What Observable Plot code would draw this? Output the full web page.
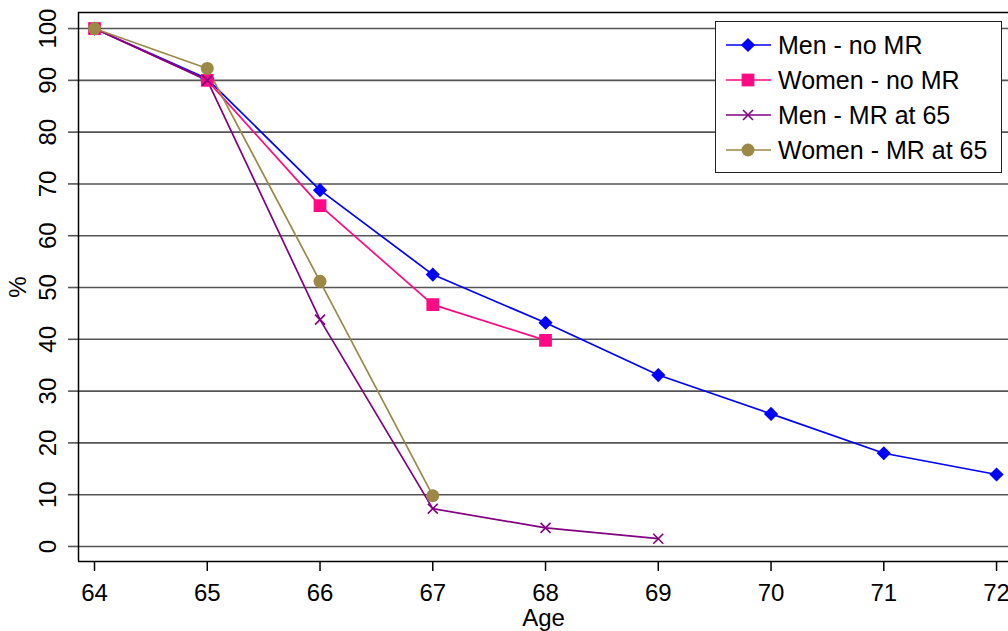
<!DOCTYPE html>
<html>
<head>
<meta charset="utf-8">
<script src="https://cdn.jsdelivr.net/npm/d3@7"></script>
<script src="https://cdn.jsdelivr.net/npm/@observablehq/plot@0.6"></script>
<style>
  body { margin: 0; background: white; overflow: hidden; }
  #wrap { position: relative; width: 1008px; height: 631px; font-family: "Liberation Sans", Arial, sans-serif; }
  #legend { position: absolute; left: 715px; top: 21px; width: 287px; height: 152px; box-sizing: border-box; border: 1.5px solid #222; background: white; }
</style>
</head>
<body>
<div id="wrap"><div id="chart"></div><div id="legend"></div></div>
<script>
const ages = [64, 65, 66, 67, 68, 69, 70, 71, 72];
const menNoMR   = [100, 90.3, 68.8, 52.5, 43.2, 33.1, 25.6, 18.0, 13.9];
const womenNoMR = [100, 90.0, 65.8, 46.7, 39.8];
const menMR65   = [100, 90.0, 43.8, 7.3, 3.6, 1.5];
const womenMR65 = [100, 92.3, 51.2, 9.8];
const seriesNames = ["Men - no MR", "Women - no MR", "Men - MR at 65", "Women - MR at 65"];
const seriesColors = ["#0000ff", "#ff0a84", "#800080", "#9c8847"];
const seriesSymbols = ["diamond2", "square", "times", "circle"];
const seriesR = [6.4, 7.2, 4.6, 6.5];
const yTicks = [0, 10, 20, 30, 40, 50, 60, 70, 80, 90, 100];
const xDomain = [63.858, 72.106];
const yDomain = [-2.9, 103.1];

const allSeries = [menNoMR, womenNoMR, menMR65, womenMR65];
const rows = allSeries.map((vals, i) => vals.map((v, j) => ({age: ages[j], value: v, series: seriesNames[i]})));

const marks = [
  Plot.gridY(yTicks, {stroke: "#555", strokeOpacity: 1, strokeWidth: 1.6}),
  Plot.axisY(yTicks, {tickSize: 10, stroke: "#555", strokeWidth: 1.6, tickFormat: () => "", label: null}),
  Plot.text(yTicks, {y: d => d, text: d => String(d), frameAnchor: "left", textAnchor: "middle", lineAnchor: "middle", dx: -30, rotate: -90, fontSize: 24}),
  Plot.axisX(ages, {tickSize: 10, strokeWidth: 1.5, tickFormat: () => "", label: null}),
  Plot.text(ages, {x: d => d, text: d => String(d), frameAnchor: "bottom", textAnchor: "middle", lineAnchor: "top", dy: 22, fontSize: 24}),
  Plot.ruleX([xDomain[0]], {stroke: "#000", strokeWidth: 1.5}),
  Plot.ruleY(yDomain, {stroke: "#000", strokeWidth: 1.5}),
  Plot.text(["Age"], {frameAnchor: "bottom", textAnchor: "middle", lineAnchor: "middle", dy: 57, fontSize: 24}),
  Plot.text(["%"], {frameAnchor: "left", textAnchor: "middle", lineAnchor: "middle", dx: -60, rotate: -90, fontSize: 24})
];
rows.forEach((r, i) => {
  marks.push(Plot.line(r, {x: "age", y: "value", stroke: seriesColors[i], strokeWidth: 1.7}));
});
rows.forEach((r, i) => {
  const sym = seriesSymbols[i];
  if (sym === "times") {
    marks.push(Plot.dot(r, {x: "age", y: "value", symbol: sym, r: seriesR[i], stroke: seriesColors[i], strokeWidth: 1.6}));
  } else {
    marks.push(Plot.dot(r, {x: "age", y: "value", symbol: sym, r: seriesR[i], fill: seriesColors[i], stroke: "none"}));
  }
});

const chart = Plot.plot({
  width: 1008, height: 631,
  marginLeft: 78, marginRight: 0, marginTop: 12, marginBottom: 70,
  x: {domain: xDomain, axis: null},
  y: {domain: yDomain, axis: null},
  style: {fontFamily: "'Liberation Sans', Arial, sans-serif", fontSize: "24px", color: "#000", background: "white"},
  marks
});
document.getElementById("chart").appendChild(chart);

// legend
const lg = d3.select("#legend").append("svg").attr("width", 285).attr("height", 150);
const symMap = {diamond2: d3.symbolDiamond2, square: d3.symbolSquare, times: d3.symbolTimes, circle: d3.symbolCircle};
seriesNames.forEach((name, i) => {
  const cy = 23 + i * 35;
  const g = lg.append("g");
  g.append("line").attr("x1", 10).attr("x2", 55).attr("y1", cy).attr("y2", cy).attr("stroke", seriesColors[i]).attr("stroke-width", 1.7);
  const size = Math.PI * seriesR[i] * seriesR[i];
  const p = g.append("path").attr("d", d3.symbol(symMap[seriesSymbols[i]], size)()).attr("transform", `translate(32,${cy})`);
  if (seriesSymbols[i] === "times") p.attr("fill", "none").attr("stroke", seriesColors[i]).attr("stroke-width", 1.6);
  else p.attr("fill", seriesColors[i]);
  g.append("text").attr("x", 62).attr("y", cy).attr("dy", "0.35em").attr("font-size", 25).attr("fill", "#000").text(name);
});
</script>
</body>
</html>
